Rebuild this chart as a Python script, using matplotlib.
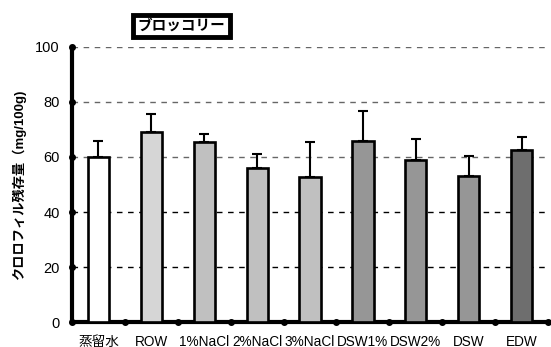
import matplotlib.pyplot as plt
import numpy as np

plt.rcParams['font.family'] = ['Liberation Sans', 'Noto Sans CJK JP', 'DejaVu Sans']

labels = ["蒸留水", "ROW", "1%NaCl", "2%NaCl", "3%NaCl", "DSW1%", "DSW2%", "DSW", "EDW"]
values = [60.0, 69.0, 65.3, 56.0, 52.7, 65.9, 58.9, 53.1, 62.7]
errors = [5.9, 6.6, 3.1, 5.0, 12.7, 11.0, 7.5, 7.2, 4.6]
colors = ["#ffffff", "#d6d6d6", "#c0c0c0", "#c0c0c0", "#c0c0c0",
          "#969696", "#969696", "#969696", "#6e6e6e"]
yticks = [0, 20, 40, 60, 80, 100]

fig = plt.figure(figsize=(5.51, 3.47), dpi=100)
ax = fig.add_axes([0.1307, 0.072, 0.864, 0.7926])

x = np.arange(len(labels))
ax.bar(x, values, width=0.4, color=colors, edgecolor="black", linewidth=1.9, zorder=3)
ax.errorbar(x, values, yerr=[np.zeros(len(errors)), errors], fmt="none",
            ecolor="black", elinewidth=1.5, capsize=3.5, capthick=1.5, zorder=4)

ax.set_xlim(-0.5, 8.5)
ax.set_ylim(0, 100)
ax.set_yticks(yticks)
ax.set_xticks(x)
ax.set_xticklabels(labels)
ax.tick_params(axis="both", length=0, labelsize=10.5)
ax.tick_params(axis="x", labelsize=9.8, pad=9)
ax.tick_params(axis="y", pad=9)

# dashed gridlines: lower ones render black, upper ones grey in the original
for yv in yticks[1:]:
    c = "black" if yv <= 40 else "#666666"
    ax.axhline(yv, color=c, linestyle=(0, (4, 4)), linewidth=1, zorder=1)

for s in ["top", "right"]:
    ax.spines[s].set_visible(False)
ax.spines["left"].set_linewidth(3)
ax.spines["bottom"].set_linewidth(3)

# dot-shaped tick marks
ax.plot([-0.5] * len(yticks), yticks, "o", color="black", markersize=4, clip_on=False, zorder=5)
ax.plot(np.arange(0.5, 9.0, 1.0), [0] * 9, "o", color="black", markersize=4, clip_on=False, zorder=5)

ax.set_ylabel("クロロフィル残存量（mg/100g)", fontsize=9.5, fontweight="bold", labelpad=6)

fig.text(0.329, 0.925, "ブロッコリー", fontsize=10.5, fontweight="bold", ha="center", va="center",
         bbox=dict(boxstyle="square,pad=0.3", facecolor="white", edgecolor="black", linewidth=3.5))

fig.savefig("out.png", dpi=100)
